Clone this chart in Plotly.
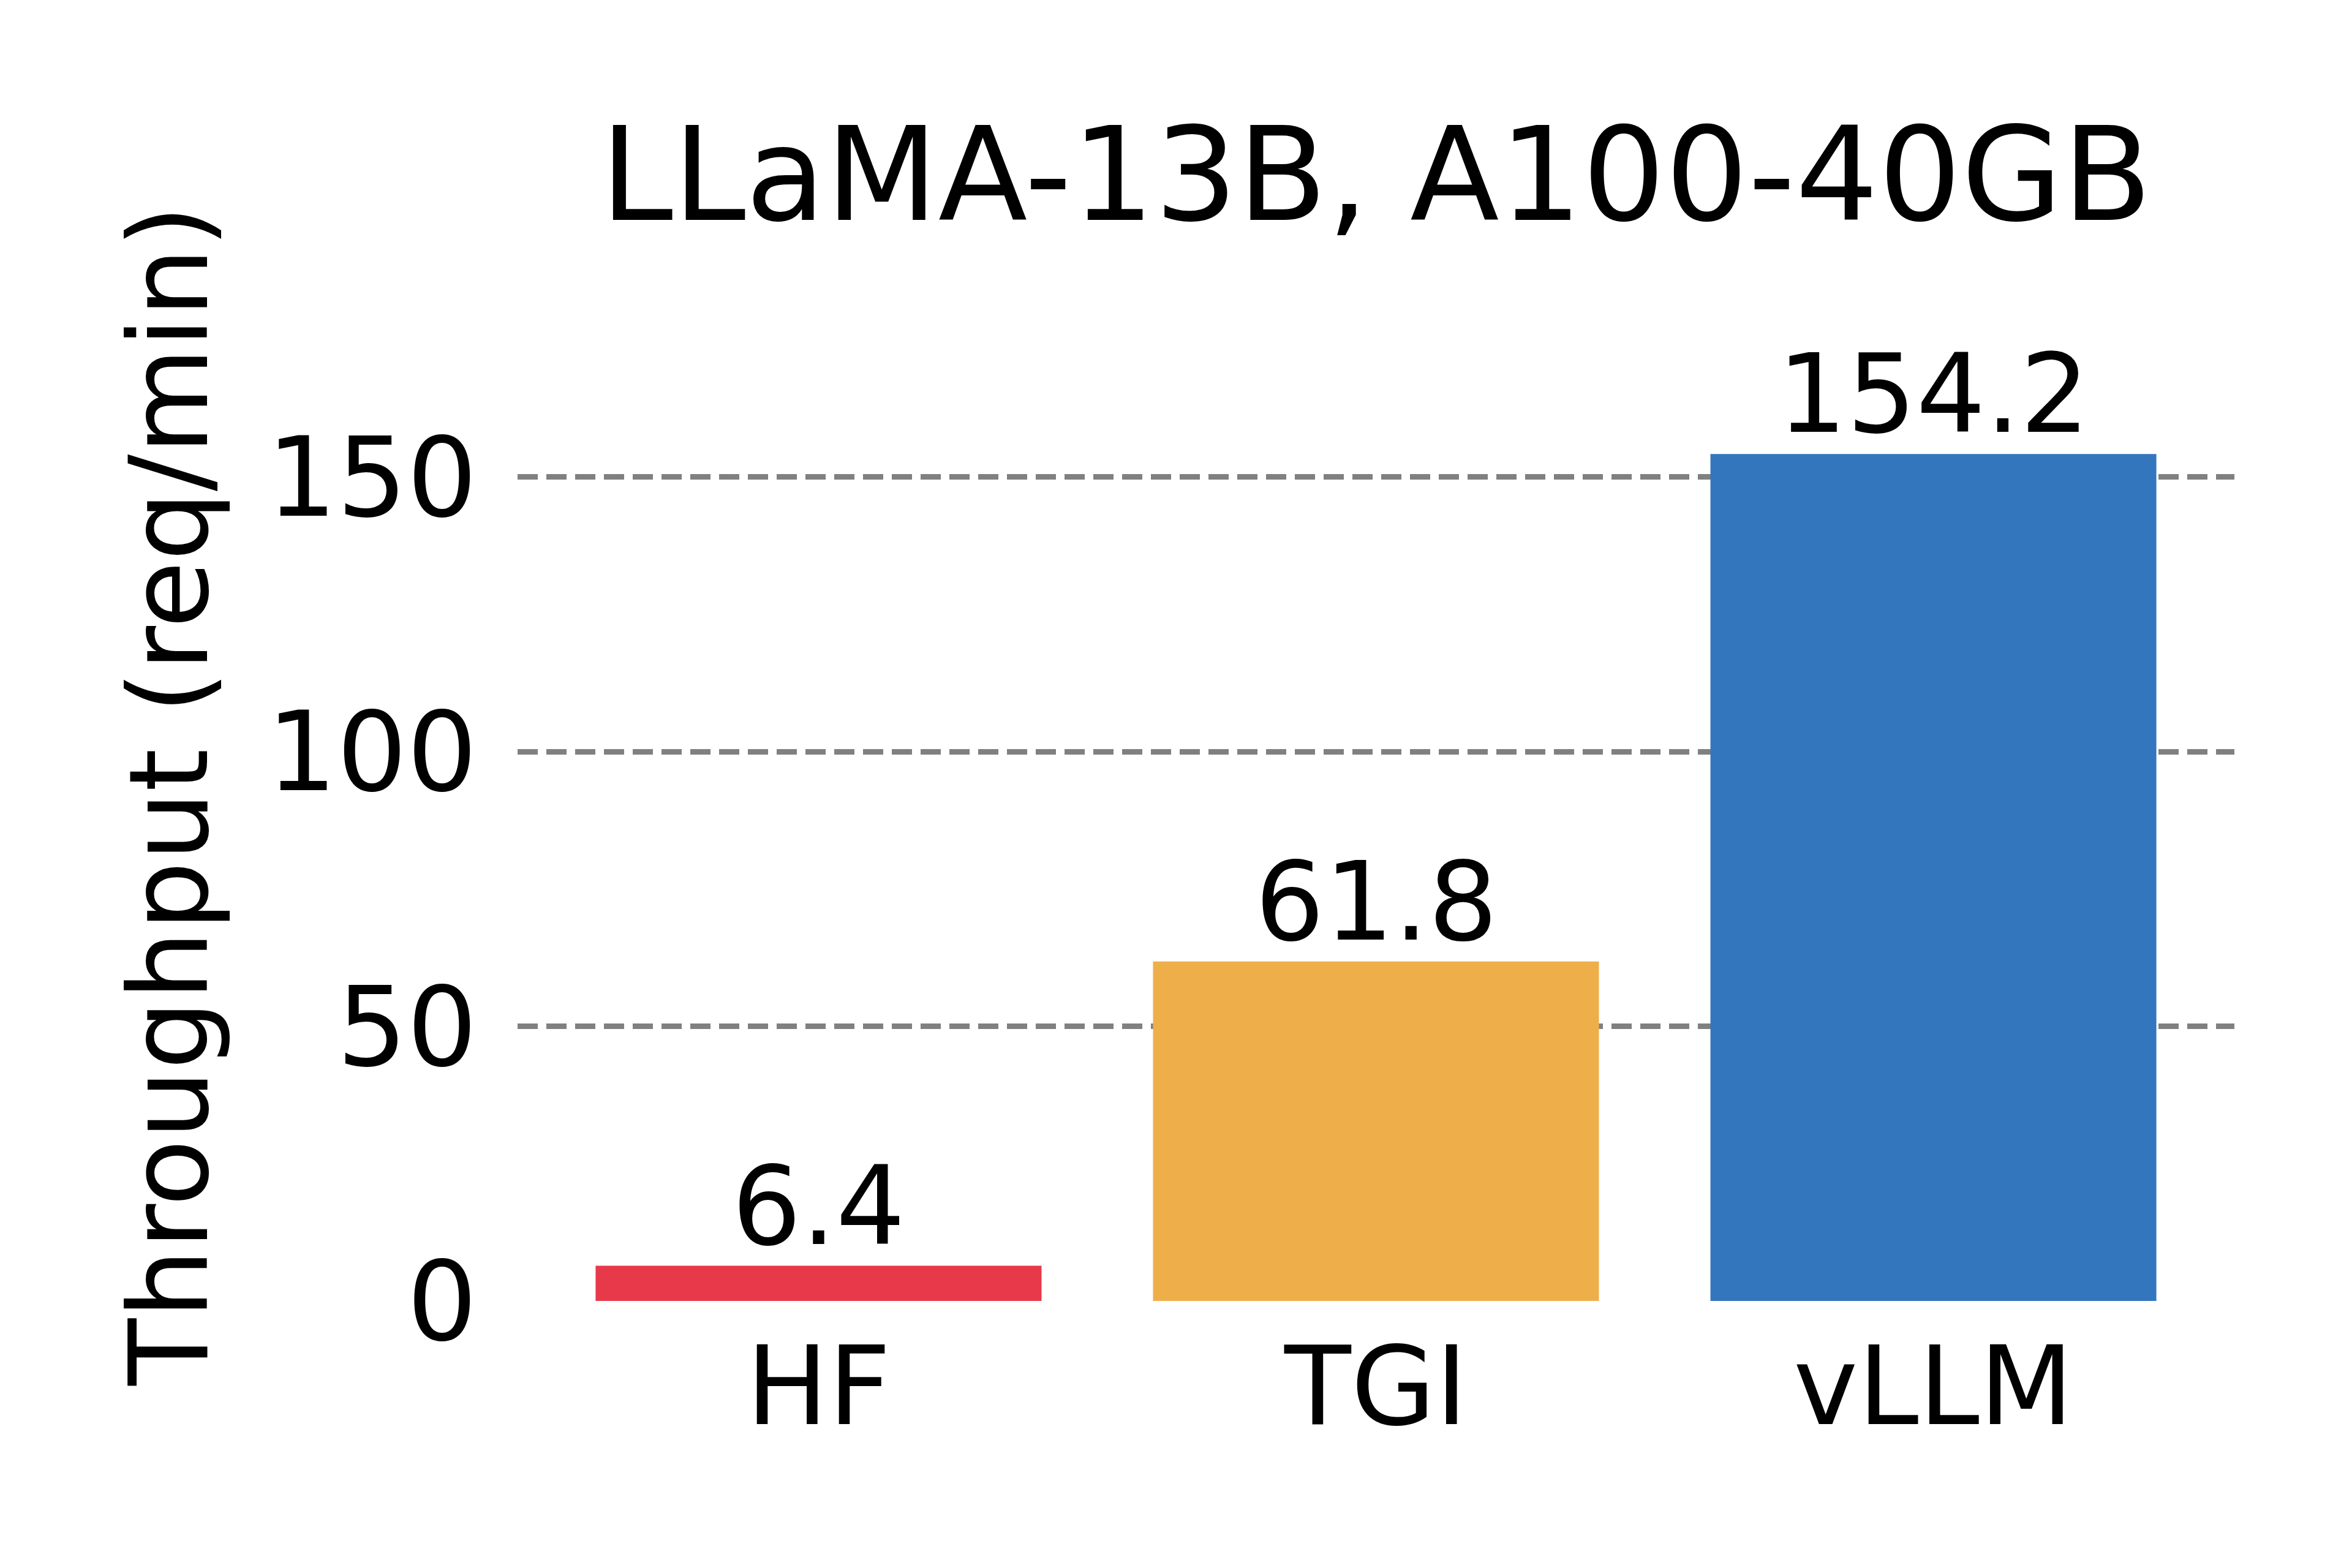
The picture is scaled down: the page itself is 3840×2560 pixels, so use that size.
import plotly.graph_objects as go

categories = ["HF", "TGI", "vLLM"]
values = [6.4, 61.8, 154.2]
bar_labels = ["6.4", "61.8", "154.2"]
colors = ["#E8394A", "#EEAF4A", "#3376BD"]
ytick_vals = [0, 50, 100, 150]
ytick_text = ["0", "50", "100", "150"]
title_text = "LLaMA-13B, A100-40GB"
ylabel_text = "Throughput (req/min)"

FONT = "DejaVu Sans"

fig = go.Figure()
fig.add_trace(go.Bar(
    x=categories, y=values, marker=dict(color=colors, line=dict(width=0)),
    width=0.8, showlegend=False,
))

annotations = []
for c, v, t in zip(categories, values, bar_labels):
    annotations.append(dict(
        x=c, y=v, xref="x", yref="y", text=t, showarrow=False,
        xanchor="center", yanchor="bottom", yshift=-8,
        font=dict(family=FONT, size=178, color="black"),
    ))
annotations.append(dict(
    x=0.5, y=1.2665, xref="paper", yref="paper", text=title_text,
    showarrow=False, xanchor="center", yanchor="middle",
    font=dict(family=FONT, size=213, color="black"),
))
annotations.append(dict(
    x=-0.2030, y=0.5689, xref="paper", yref="paper", text=ylabel_text,
    showarrow=False, xanchor="center", yanchor="middle", textangle=-90,
    font=dict(family=FONT, size=179, color="black"),
))

fig.update_layout(
    width=3832, height=2552, autosize=False,
    margin=dict(l=837, r=192, t=664, b=436, pad=0),
    plot_bgcolor="white", paper_bgcolor="white",
    font=dict(family=FONT, color="black"),
    annotations=annotations,
    bargap=0.2,
)
fig.update_xaxes(
    range=[-0.54, 2.54], showgrid=False, showline=False, zeroline=False,
    ticks="", ticklabelstandoff=22,
    tickfont=dict(family=FONT, size=178, color="black"),
)
fig.update_yaxes(
    range=[0, 161.91], tickvals=ytick_vals, ticktext=ytick_text,
    showgrid=True, gridcolor="#808080", gridwidth=9, griddash="33px,14px",
    showline=False, zeroline=False, ticks="", ticklabelstandoff=65,
    tickfont=dict(family=FONT, size=180, color="black"),
)

fig.write_html("out.html")
